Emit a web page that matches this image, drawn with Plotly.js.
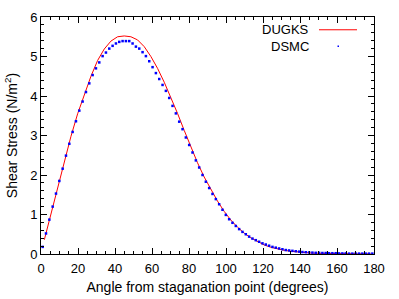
<!DOCTYPE html>
<html><head><meta charset="utf-8">
<script src="https://cdn.plot.ly/plotly-3.0.1.min.js"></script>
<style>html,body{margin:0;padding:0;background:#fff;}#plot{width:399px;height:299px;}</style>
</head><body><div id="plot"></div>
<script>
const dugksAngle = [1.8,5.4,9.0,12.6,16.2,19.8,23.4,27.0,30.6,34.2,37.8,41.4,45.0,48.6,52.2,55.8,59.4,63.0,66.6,70.2,73.8,77.4,81.0,84.6,88.2,91.8,95.4,99.0,102.6,106.2,109.8,113.4,117.0,120.6,124.2,127.8,131.4,135.0,138.6,142.2,145.8,149.4,153.0,156.6,160.2,163.8,167.4,171.0,174.6,178.2];
const dugksStress = [0.36,1.03,1.70,2.35,2.98,3.55,4.05,4.50,4.90,5.19,5.39,5.50,5.52,5.50,5.42,5.25,5.00,4.70,4.35,3.97,3.56,3.13,2.71,2.31,1.95,1.63,1.34,1.08,0.86,0.68,0.53,0.41,0.31,0.23,0.17,0.13,0.095,0.07,0.05,0.035,0.025,0.018,0.013,0.01,0.008,0.007,0.006,0.005,0.005,0.005];
const dsmcAngle = [0.9,2.7,4.5,6.3,8.1,9.9,11.7,13.5,15.3,17.1,18.9,20.7,22.5,24.3,26.1,27.9,29.7,31.5,33.3,35.1,36.9,38.7,40.5,42.3,44.1,45.9,47.7,49.5,51.3,53.1,54.9,56.7,58.5,60.3,62.1,63.9,65.7,67.5,69.3,71.1,72.9,74.7,76.5,78.3,80.1,81.9,83.7,85.5,87.3,89.1,90.9,92.7,94.5,96.3,98.1,99.9,101.7,103.5,105.3,107.1,108.9,110.7,112.5,114.3,116.1,117.9,119.7,121.5,123.3,125.1,126.9,128.7,130.5,132.3,134.1,135.9,137.7,139.5,141.3,143.1,144.9,146.7,148.5,150.3,152.1,153.9,155.7,157.5,159.3,161.1,162.9,164.7,166.5,168.3,170.1,171.9,173.7,175.5,177.3,179.1];
const dsmcStress = [0.18,0.52,0.87,1.20,1.53,1.85,2.16,2.49,2.79,3.09,3.36,3.63,3.86,4.10,4.32,4.53,4.70,4.85,5.01,5.10,5.20,5.27,5.33,5.37,5.39,5.39,5.39,5.33,5.25,5.20,5.11,5.01,4.88,4.73,4.58,4.43,4.28,4.13,3.95,3.75,3.56,3.35,3.16,2.95,2.76,2.57,2.37,2.19,2.00,1.83,1.67,1.52,1.39,1.26,1.12,0.99,0.88,0.79,0.71,0.63,0.56,0.50,0.44,0.39,0.35,0.31,0.27,0.24,0.21,0.18,0.16,0.14,0.12,0.10,0.09,0.08,0.07,0.06,0.05,0.045,0.04,0.035,0.03,0.03,0.025,0.025,0.02,0.02,0.02,0.015,0.015,0.015,0.01,0.01,0.01,0.01,0.01,0.01,0.01,0.01];
const seriesNames = ["DUGKS","DSMC"];
const xTitle = "Angle from staganation point (degrees)";
const yTitle = "Shear Stress (N/m<sup>2</sup>)";

const fam = "Liberation Sans, Arial, sans-serif";
const tickFont = {family:fam, size:13, color:"#000"};
const titleFont = {family:fam, size:14, color:"#000"};
const legFont = {family:fam, size:13, color:"#000"};
const traces = [
  {x:dugksAngle, y:dugksStress, name:seriesNames[0], type:"scatter", mode:"lines", line:{color:"#ff0000", width:1}, showlegend:false},
  {x:dsmcAngle, y:dsmcStress, name:seriesNames[1], type:"scatter", mode:"markers", marker:{color:"#0000ff", size:2.5, symbol:"square"}, showlegend:false}
];
const axisCommon = {showline:true, linecolor:"#000", linewidth:1, mirror:"allticks", ticks:"inside", ticklen:6, tickcolor:"#000", showgrid:false, zeroline:false, tickfont:tickFont};
const pw = 333, ph = 237.5;
const layout = {
  width:399, height:299,
  margin:{l:41, r:25, t:17, b:45},
  paper_bgcolor:"#fff", plot_bgcolor:"#fff",
  font:tickFont,
  xaxis:Object.assign({}, axisCommon, {range:[0,180], dtick:20, tick0:0, ticklabelstandoff:2, minor:{dtick:5, ticks:"inside", ticklen:3, tickcolor:"#000"}, title:{text:xTitle, font:titleFont, standoff:7}}),
  yaxis:Object.assign({}, axisCommon, {range:[0,6], dtick:1, tick0:0, minor:{dtick:0.2, ticks:"inside", ticklen:3, tickcolor:"#000"}, title:{text:yTitle, font:titleFont, standoff:9}}),
  annotations:[
    {xref:"paper", yref:"paper", x:(311-41)/pw, y:(254-29.5)/ph, text:seriesNames[0], showarrow:false, xanchor:"right", yanchor:"middle", font:legFont},
    {xref:"paper", yref:"paper", x:(311-41)/pw, y:(254-46.3)/ph, text:seriesNames[1], showarrow:false, xanchor:"right", yanchor:"middle", font:legFont}
  ],
  shapes:[
    {type:"line", xref:"paper", yref:"paper", x0:(319-41)/pw, x1:(357-41)/pw, y0:(254-29.3)/ph, y1:(254-29.3)/ph, line:{color:"#ff0000", width:1}},
    {type:"rect", xref:"paper", yref:"paper", x0:(337.5-41)/pw, x1:(339-41)/pw, y0:(254-46.5)/ph, y1:(254-45)/ph, line:{width:0}, fillcolor:"#0000ff"}
  ]
};
Plotly.newPlot("plot", traces, layout, {staticPlot:true, displayModeBar:false});
</script>
</body></html>
